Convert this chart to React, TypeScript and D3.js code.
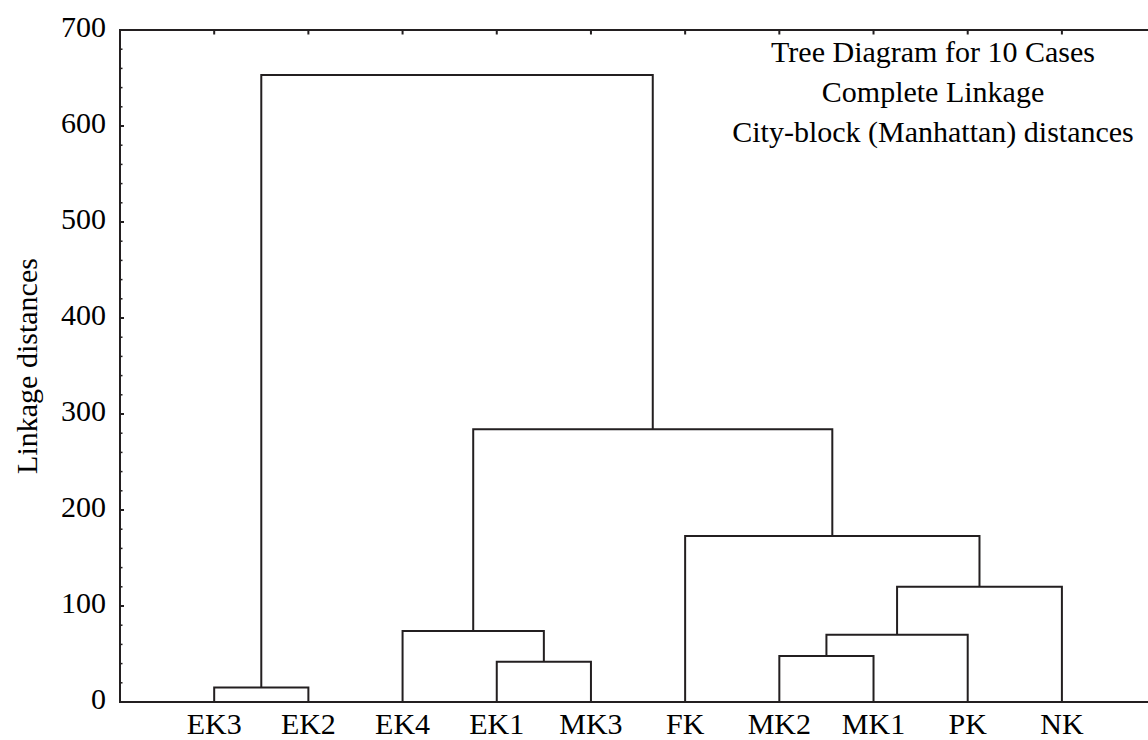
import React from "react";
import * as d3 from "d3";

// Leaf order along the horizontal axis
const leafLabels = ["EK3", "EK2", "EK4", "EK1", "MK3", "FK", "MK2", "MK1", "PK", "NK"];

// Agglomeration steps: indices < 10 are leaves, index 10 + k is the cluster formed at step k
const mergePairs: [number, number][] = [
  [0, 1],
  [3, 4],
  [2, 11],
  [6, 7],
  [13, 8],
  [14, 9],
  [5, 15],
  [12, 16],
  [10, 17],
];
const mergeHeights = [15, 42, 74, 48, 70, 120, 173, 284, 653];

const yTicks = [0, 100, 200, 300, 400, 500, 600, 700];
const yMinorTicks = d3.range(0, 701, 20);

const titleLines = [
  "Tree Diagram for 10 Cases",
  "Complete Linkage",
  "City-block (Manhattan) distances",
];
const yAxisLabel = "Linkage distances";

const W = 1148;
const H = 740;
const INK = "#231f20";
const FONT = "'Liberation Serif', 'Times New Roman', serif";
const FS = 30;

export default function App() {
  const left = 120;
  const step = 94.19;
  const x = d3.scaleLinear().domain([0, leafLabels.length + 1]).range([left, left + step * (leafLabels.length + 1)]);
  const y = d3.scaleLinear().domain([0, 700]).range([702, 30]);

  // positions and heights of every node (leaves first, then merged clusters)
  const nodeX: number[] = leafLabels.map((_, i) => x(i + 1));
  const nodeH: number[] = leafLabels.map(() => 0);
  const links: string[] = [];
  mergePairs.forEach(([a, b], k) => {
    const h = mergeHeights[k];
    const xa = nodeX[a];
    const xb = nodeX[b];
    const p = d3.path();
    p.moveTo(xa, y(nodeH[a]));
    p.lineTo(xa, y(h));
    p.lineTo(xb, y(h));
    p.lineTo(xb, y(nodeH[b]));
    links.push(p.toString());
    nodeX.push((xa + xb) / 2);
    nodeH.push(h);
  });

  const x0 = x(0);
  const x1 = x(leafLabels.length + 1);

  return (
    <svg
      width={W}
      height={H}
      style={{ position: "fixed", left: 0, top: 0, background: "#fff" }}
      fontFamily={FONT}
    >
      <rect x={0} y={0} width={W} height={H} fill="#fff" />
      {/* frame */}
      <rect x={x0} y={y(700)} width={x1 - x0} height={y(0) - y(700)} fill="none" stroke={INK} strokeWidth={2} />

      {/* left axis ticks, pointing inward */}
      {yMinorTicks.map((v) => (
        <line key={"m" + v} x1={x0} x2={x0 + 2.5} y1={y(v)} y2={y(v)} stroke={INK} strokeWidth={1.5} />
      ))}
      {yTicks.map((v) => (
        <line key={"M" + v} x1={x0} x2={x0 + 4} y1={y(v)} y2={y(v)} stroke={INK} strokeWidth={2} />
      ))}
      {yTicks.map((v) => (
        <text
          key={"t" + v}
          x={x0 - 14}
          y={y(v) + 7}
          textAnchor="end"
          fontSize={FS}
          fill="#000"
        >
          {v}
        </text>
      ))}

      {/* top axis ticks at each leaf */}
      {leafLabels.map((_, i) => (
        <line key={"tt" + i} x1={x(i + 1)} x2={x(i + 1)} y1={y(700)} y2={y(700) + 4.5} stroke={INK} strokeWidth={2} />
      ))}

      {/* dendrogram links */}
      {links.map((d, i) => (
        <path key={"l" + i} d={d} fill="none" stroke={INK} strokeWidth={2} strokeLinejoin="miter" />
      ))}

      {/* leaf labels */}
      {leafLabels.map((s, i) => (
        <text key={"leaf" + i} x={x(i + 1)} y={734} textAnchor="middle" fontSize={FS} fill="#000">
          {s}
        </text>
      ))}

      {/* y axis title */}
      <text
        transform={`translate(${37},${(y(0) + y(700)) / 2}) rotate(-90)`}
        textAnchor="middle"
        fontSize={FS}
        fill="#000"
      >
        {yAxisLabel}
      </text>

      {/* chart title block */}
      {titleLines.map((s, i) => (
        <text key={"title" + i} x={933} y={62 + i * 40} textAnchor="middle" fontSize={FS} fill="#000">
          {s}
        </text>
      ))}
    </svg>
  );
}
